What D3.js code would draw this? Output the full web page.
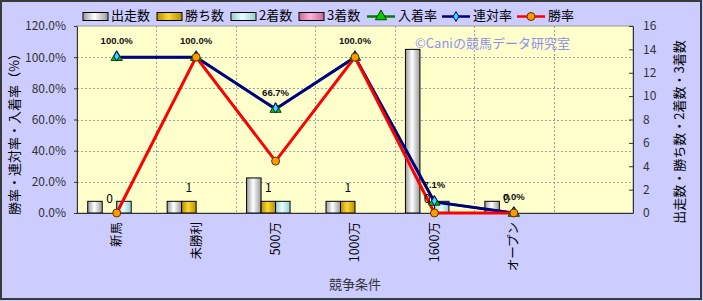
<!DOCTYPE html>
<html><head><meta charset="utf-8">
<script src="https://cdn.jsdelivr.net/npm/d3@7"></script>
<style>
body{margin:0;padding:0;background:#fff;}
svg{display:block;}
text{font-family:"Noto Sans CJK JP","DejaVu Sans",sans-serif;}
</style></head>
<body>
<svg id="c" width="703" height="301"></svg>
<script>
const categories = ["新馬","未勝利","500万","1000万","1600万","オープン",""];
const starters = [1,1,3,1,14,1,null];
const wins     = [0,1,1,1,0,0,null];
const seconds  = [1,0,1,0,1,0,null];
const thirds   = [0,0,0,0,0,0,null];
const placeRate  = [100,100,66.7,100,7.1,0];
const rentaiRate = [100,100,66.7,100,7.1,0];
const winRate    = [0,100,33.3,100,0,0];
const leftTicks = [0,20,40,60,80,100,120];
const rightTicks = [0,2,4,6,8,10,12,14,16];
const barSeries = ["出走数","勝ち数","2着数","3着数"];
const lineSeries = ["入着率","連対率","勝率"];

const svg = d3.select("#c");
const W=703,H=301;
const L=77,R=633,T=26,B=213;

svg.append("rect").attr("x",0).attr("y",0).attr("width",W).attr("height",H).attr("fill","#CCCCFF");
svg.append("rect").attr("x",1).attr("y",1).attr("width",W-3).attr("height",H-3).attr("fill","none").attr("stroke","#3a3a3a").attr("stroke-width",2);

const defs = svg.append("defs");
function grad(id, edge, mid){
  const g = defs.append("linearGradient").attr("id",id).attr("x1","0%").attr("x2","100%").attr("y1","0%").attr("y2","0%");
  g.append("stop").attr("offset","0%").attr("stop-color",edge);
  g.append("stop").attr("offset","45%").attr("stop-color",mid);
  g.append("stop").attr("offset","100%").attr("stop-color",edge);
}
grad("g0","#9a9a9a","#ffffff");
grad("g1","#b38f00","#ffd633");
grad("g2","#99cccc","#e6ffff");
grad("g3","#cc6699","#ffb3d9");
const fills = ["url(#g0)","url(#g1)","url(#g2)","url(#g3)"];

const x = d3.scaleBand().domain(categories.map((d,i)=>i)).range([L,R]).padding(0);
const xs = d3.scaleBand().domain([0,1,2,3]).range([0,x.bandwidth()]).paddingInner(0).paddingOuter(0.74);
const yL = d3.scaleLinear().domain([0,120]).range([B,T]);
const yR = d3.scaleLinear().domain([0,16]).range([B,T]);

svg.append("rect").attr("x",L).attr("y",T).attr("width",R-L).attr("height",B-T).attr("fill","#FFFFCC").attr("stroke","#999").attr("stroke-width",1);

// grid
const grid = svg.append("g").attr("stroke","#a0a0a0").attr("stroke-dasharray","2,2").attr("stroke-width",1);
leftTicks.slice(1,-1).forEach(t=>{
  grid.append("line").attr("x1",L).attr("x2",R).attr("y1",Math.round(yL(t))+0.5).attr("y2",Math.round(yL(t))+0.5);
});
categories.slice(1).forEach((c,i)=>{
  const xx = Math.round(x(i+1))+0.5;
  grid.append("line").attr("x1",xx).attr("x2",xx).attr("y1",T).attr("y2",B);
});

// bars
const series = [starters,wins,seconds,thirds];
series.forEach((arr,s)=>{
  arr.forEach((v,i)=>{
    if(v===null||v===0) return;
    svg.append("rect").attr("x",x(i)+xs(s)).attr("y",yR(v)).attr("width",xs.bandwidth()).attr("height",yR(0)-yR(v))
      .attr("fill",fills[s]).attr("stroke","#000").attr("stroke-width",1);
  });
});

// axes
const ax = svg.append("g").attr("transform",`translate(${L},0)`)
  .call(d3.axisLeft(yL).tickValues(leftTicks).tickFormat(d=>d.toFixed(1)+"%").tickSizeInner(3).tickSizeOuter(0).tickPadding(8));
const ax2 = svg.append("g").attr("transform",`translate(${R},0)`)
  .call(d3.axisRight(yR).tickValues(rightTicks).tickSizeInner(-4).tickSizeOuter(0).tickPadding(10));
[ax,ax2].forEach(a=>{
  a.select(".domain").attr("stroke","#333");
  a.selectAll(".tick line").attr("stroke","#333");
  a.selectAll(".tick text").attr("fill","#333").style("font-size","12px").style("font-family","'Noto Sans CJK JP',sans-serif");
});
svg.append("line").attr("x1",L).attr("x2",R).attr("y1",B+0.5).attr("y2",B+0.5).attr("stroke","#333");

// x labels
categories.forEach((c,i)=>{
  const cx = x(i)+x.bandwidth()/2;
  svg.append("text").attr("transform",`translate(${cx},222) rotate(-90)`).attr("text-anchor","end")
    .attr("dy","0.35em").style("font-size","12.5px").attr("fill","#000").text(c);
});
svg.append("text").attr("x",355).attr("y",285).attr("text-anchor","middle").attr("dominant-baseline","middle")
  .style("font-size","13px").attr("fill","#333").text("競争条件");

svg.append("text").attr("transform","translate(15,131) rotate(-90)").attr("text-anchor","middle").attr("dominant-baseline","middle")
  .style("font-size","13px").attr("fill","#000").text("勝率・連対率・入着率（%）");
svg.append("text").attr("transform","translate(680,132) rotate(-90)").attr("text-anchor","middle").attr("dominant-baseline","middle")
  .style("font-size","13px").attr("fill","#000").text("出走数・勝ち数・2着数・3着数");

// watermark
svg.append("text").attr("x",415).attr("y",44).attr("dominant-baseline","middle").style("font-size","13px")
  .attr("fill","#8f8fef").text("©Caniの競馬データ研究室");

// lines
const cxf = i => x(i)+x.bandwidth()/2;
const lineGen = d3.line().x((d,i)=>cxf(i)).y(d=>yL(d));
svg.append("path").datum(placeRate).attr("d",lineGen).attr("fill","none").attr("stroke","#008000").attr("stroke-width",2.5);
svg.append("path").datum(rentaiRate).attr("d",lineGen).attr("fill","none").attr("stroke","#000080").attr("stroke-width",3);
svg.append("path").datum(winRate).attr("d",lineGen).attr("fill","none").attr("stroke","#ff0000").attr("stroke-width",3);

const tri = d3.symbol().type(d3.symbolTriangle).size(55);
const dia = d3.symbol().type(d3.symbolDiamond).size(28);
const cir = d3.symbol().type(d3.symbolCircle).size(50);
placeRate.forEach((v,i)=>svg.append("path").attr("d",tri()).attr("transform",`translate(${cxf(i)},${yL(v)})`).attr("fill","#00cc00").attr("stroke","#004400").attr("stroke-width",1));
rentaiRate.forEach((v,i)=>svg.append("path").attr("d",dia()).attr("transform",`translate(${cxf(i)},${yL(v)-1})`).attr("fill","#33ddff").attr("stroke","#000066").attr("stroke-width",1));
winRate.forEach((v,i)=>svg.append("path").attr("d",cir()).attr("transform",`translate(${cxf(i)},${yL(v)})`).attr("fill","#ff9900").attr("stroke","#553300").attr("stroke-width",1));

// data labels
rentaiRate.forEach((v,i)=>{
  svg.append("text").attr("x",cxf(i)).attr("y",yL(v)-16).attr("text-anchor","middle").attr("dominant-baseline","middle")
    .style("font-size","9.5px").style("font-weight","bold").style("font-family","'Liberation Sans',sans-serif").attr("fill","#111").text(v.toFixed(1)+"%");
});
wins.forEach((v,i)=>{
  if(v===null) return;
  svg.append("text").attr("x",x(i)+xs(1)+xs.bandwidth()/2).attr("y",yR(v)-13).attr("text-anchor","middle").attr("dominant-baseline","middle")
    .style("font-size","12px").attr("fill","#000").text(v);
});

// legend
const leg = svg.append("g");
const lx = [83,157,231,299];
barSeries.forEach((n,i)=>{
  leg.append("rect").attr("x",lx[i]).attr("y",12.5).attr("width",25).attr("height",8).attr("fill",fills[i]).attr("stroke","#000");
  leg.append("text").attr("x",lx[i]+28).attr("y",16.5).attr("dominant-baseline","middle").style("font-size","13px").attr("fill","#000").text(n);
});
const llx = [367,442,517];
const lcol = ["#008000","#000080","#ff0000"];
const lsym = [[tri,"#00cc00","#004400"],[dia,"#33ddff","#000066"],[cir,"#ff9900","#553300"]];
lineSeries.forEach((n,i)=>{
  leg.append("line").attr("x1",llx[i]).attr("x2",llx[i]+28).attr("y1",16.5).attr("y2",16.5).attr("stroke",lcol[i]).attr("stroke-width",2.5);
  leg.append("path").attr("d",lsym[i][0]()).attr("transform",`translate(${llx[i]+14},16.5)`).attr("fill",lsym[i][1]).attr("stroke",lsym[i][2]);
  leg.append("text").attr("x",llx[i]+31).attr("y",16.5).attr("dominant-baseline","middle").style("font-size","13px").attr("fill","#000").text(n);
});
</script>
</body></html>
